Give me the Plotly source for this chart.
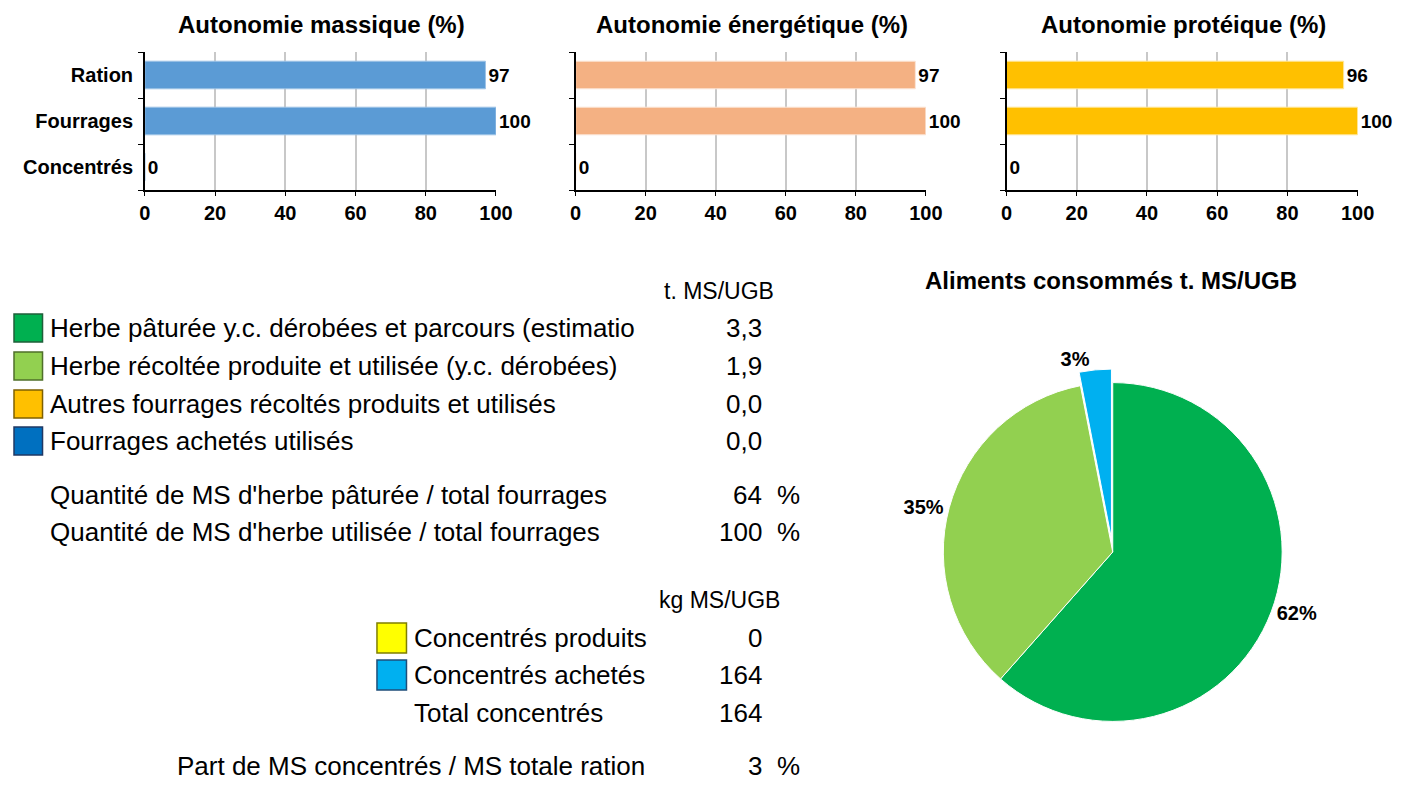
import plotly.graph_objects as go

# page body has an 8px margin: figure is sized so the page fits the 1423x802 window
OFF = 8
W, H = 1423 - 2 * OFF, 802 - 2 * OFF

# ---------------- data ----------------
bar_categories = ["Ration", "Fourrages", "Concentrés"]
autonomie_massique = [97, 100, 0]
autonomie_energetique = [97, 100, 0]
autonomie_proteique = [96, 100, 0]
bar_titles = ["Autonomie massique (%)", "Autonomie énergétique (%)", "Autonomie protéique (%)"]
x_ticks = [0, 20, 40, 60, 80, 100]

fourrage_labels = [
    "Herbe pâturée y.c. dérobées et parcours (estimatio",
    "Herbe récoltée produite et utilisée (y.c. dérobées)",
    "Autres fourrages récoltés produits et utilisés",
    "Fourrages achetés utilisés",
]
fourrage_values = [3.3, 1.9, 0.0, 0.0]  # t. MS/UGB

ratio_labels = [
    "Quantité de MS d'herbe pâturée / total fourrages",
    "Quantité de MS d'herbe utilisée / total fourrages",
]
ratio_values = [64, 100]  # %

concentre_labels = ["Concentrés produits", "Concentrés achetés", "Total concentrés"]
concentre_values = [0, 164, 164]  # kg MS/UGB

part_label = "Part de MS concentrés / MS totale ration"
part_value = 3  # %

pie_title = "Aliments consommés t. MS/UGB"

# ---------------- styles ----------------
bar_colors = ["#5B9BD5", "#F4B183", "#FFC000"]
bar_line_colors = ["#9DC3E6", "#FBE5D6", "#FFE699"]
fourrage_colors = ["#00B050", "#92D050", "#FFC000", "#0070C0"]
fourrage_border = ["#1F5F3A", "#4F6F2A", "#7F6000", "#1F3864"]
concentre_colors = ["#FFFF00", "#00B0F0"]
concentre_border = ["#7F7F00", "#1F4E79"]

FONT = "Liberation Sans, Arial, sans-serif"


def px(x):
    return (x - OFF) / W


def py(y):
    return 1 - (y - OFF) / H


fig = go.Figure()

# ---------------- bar charts ----------------
x_domains = [(141, 498), (579, 935), (1017, 1374)]
series = [autonomie_massique, autonomie_energetique, autonomie_proteique]
for i, (vals, dom) in enumerate(zip(series, x_domains)):
    xa = "x" if i == 0 else f"x{i+1}"
    ya = "y" if i == 0 else f"y{i+1}"
    fig.add_trace(go.Bar(
        x=vals, y=bar_categories, orientation="h",
        marker=dict(color=bar_colors[i], line=dict(color=bar_line_colors[i], width=1)),
        width=0.6,
        text=[str(v) for v in vals], textposition="outside",
        textfont=dict(family=FONT, size=19, color="#000000", weight="bold"),
        cliponaxis=False,
        xaxis=xa, yaxis=ya, showlegend=False, hoverinfo="x+y",
    ))
    xkey = "xaxis" if i == 0 else f"xaxis{i+1}"
    ykey = "yaxis" if i == 0 else f"yaxis{i+1}"
    fig.update_layout({
        xkey: dict(
            domain=[px(dom[0]), px(dom[1])], anchor=ya, range=[0, 100],
            tickvals=x_ticks, ticks="outside", ticklen=4, tickcolor="#000000",
            showline=True, linecolor="#000000", linewidth=1.5,
            showgrid=True, gridcolor="#C8C8C8", gridwidth=2, zeroline=False,
            tickfont=dict(family=FONT, size=20, color="#000000", weight="bold"),
            fixedrange=True,
        ),
        ykey: dict(
            domain=[py(190), py(52)], anchor=xa,
            categoryorder="array", categoryarray=bar_categories[::-1],
            ticks="outside", ticklen=5, tickcolor="#000000", tickson="boundaries",
            ticklabelstandoff=6,
            showline=True, linecolor="#000000", linewidth=1.5, showgrid=False,
            showticklabels=(i == 0),
            tickfont=dict(family=FONT, size=20, color="#000000", weight="bold"),
            fixedrange=True,
        ),
    })
    fig.add_annotation(
        x=px((dom[0] + dom[1]) / 2 + 1), y=py(25), xref="paper", yref="paper",
        text=bar_titles[i], showarrow=False, xanchor="center", yanchor="middle",
        font=dict(family=FONT, size=24, color="#000000", weight="bold"),
    )

# ---------------- pie ----------------
pie_names = fourrage_labels + concentre_labels[:2]
pie_values = fourrage_values + [v / 1000 for v in concentre_values[:2]]
pie_cols = fourrage_colors + concentre_colors
pn, pv, pc = [], [], []
for n, v, c in zip(pie_names, pie_values, pie_cols):
    if v > 0:
        pn.append(n)
        pv.append(v)
        pc.append(c)
pulls = [0.08 if n == concentre_labels[1] else 0 for n in pn]

fig.add_trace(go.Pie(
    labels=pn, values=pv, sort=False, direction="clockwise", rotation=0,
    marker=dict(colors=pc, line=dict(color="#FFFFFF", width=1)),
    pull=pulls, textposition="outside", texttemplate="%{percent:.0%}",
    textfont=dict(family=FONT, size=20, color="#000000", weight="bold"),
    domain=dict(x=[px(1125 - 186), px(1125 + 186)], y=[py(737), py(367)]),
    showlegend=False, hoverinfo="label+value",
))
fig.add_annotation(
    x=px(1123), y=py(280), xref="paper", yref="paper", text=pie_title,
    showarrow=False, xanchor="center", yanchor="middle",
    font=dict(family=FONT, size=24, color="#000000", weight="bold"),
)

# ---------------- left table ----------------
shapes = []
ann = []
TXT = 26
UNIT = 23


def text(x, y, s, anchor="left", size=TXT):
    ann.append(dict(x=px(x), y=py(y), xref="paper", yref="paper", text=s,
                    showarrow=False, xanchor=anchor, yanchor="middle",
                    font=dict(family=FONT, size=size, color="#000000")))


text(725, 291, "t. MS/UGB", anchor="center", size=UNIT)
row_y = [328, 366, 404, 441]
for lab, val, col, bcol, y in zip(fourrage_labels, fourrage_values, fourrage_colors, fourrage_border, row_y):
    shapes.append(dict(type="rect", xref="paper", yref="paper",
                       x0=px(8), x1=px(37), y0=py(y + 14), y1=py(y - 14),
                       fillcolor=col, line=dict(color=bcol, width=1.5)))
    text(43, y, lab)
    text(770, y, f"{val:.1f}".replace(".", ","), anchor="right")

for lab, val, y in zip(ratio_labels, ratio_values, [495, 532]):
    text(43, y, lab)
    text(770, y, str(val), anchor="right")
    text(782, y, "%")

text(725, 600, "kg MS/UGB", anchor="center", size=UNIT)
c_y = [638, 675, 713]
for k, (lab, val, y) in enumerate(zip(concentre_labels, concentre_values, c_y)):
    if k < 2:
        shapes.append(dict(type="rect", xref="paper", yref="paper",
                           x0=px(377), x1=px(407), y0=py(y + 15), y1=py(y - 15),
                           fillcolor=concentre_colors[k], line=dict(color=concentre_border[k], width=1.5)))
    text(413, y, lab)
    text(770, y, str(val), anchor="right")

text(172, 766, part_label)
text(770, 766, str(part_value), anchor="right")
text(782, 766, "%")

fig.update_layout(
    width=W, height=H, margin=dict(l=0, r=0, t=0, b=0),
    paper_bgcolor="#FFFFFF", plot_bgcolor="#FFFFFF",
    shapes=shapes, annotations=list(fig.layout.annotations) + ann,
    font=dict(family=FONT),
    bargap=0.4, showlegend=False,
)

# hide any invisible helper elements lying wholly past the window's right edge,
# so that they do not widen the page
post = """
try {
  var vw = window.innerWidth || 1423;
  var els = document.querySelectorAll('body *');
  for (var i = 0; i < els.length; i++) {
    var el = els[i];
    var r = el.getBoundingClientRect();
    if (r.width <= 0) continue;
    var leaf = !(el.children && el.children.length);
    if ((leaf && r.right > vw + 2) || r.left >= vw) { el.style.display = 'none'; }
  }
  var d = document.querySelector('.plotly-graph-div');
  if (d) { d.style.overflow = 'hidden'; }
} catch (e) {}
"""

fig.write_html("out.html", post_script=post,
               config={"displayModeBar": False, "responsive": False})
